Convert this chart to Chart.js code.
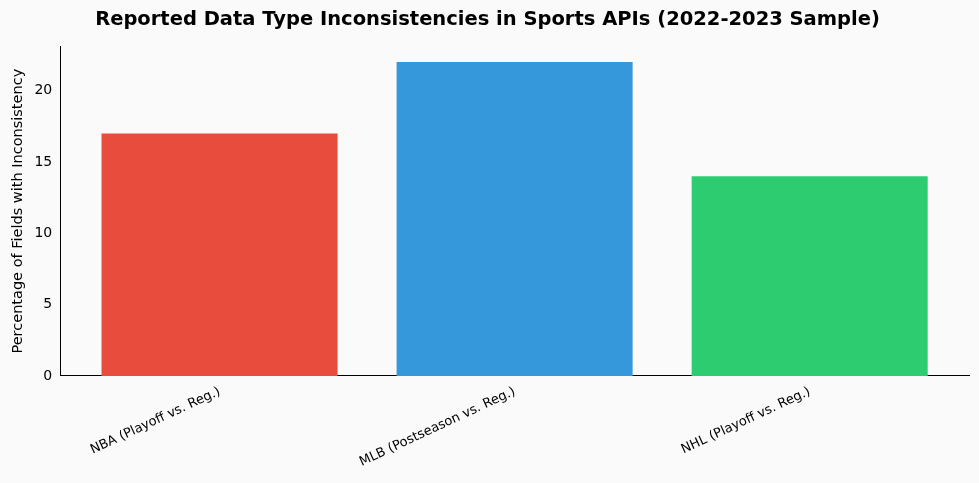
<!DOCTYPE html>
<html><head>
<script src="https://cdn.jsdelivr.net/npm/chart.js@4"></script>
<style>html,body{margin:0;background:#fafafa;}#w{width:979px;height:483px;}</style>
</head><body><div id="w"><canvas id="c"></canvas></div>
<script>
const categories = ["NBA (Playoff vs. Reg.)", "MLB (Postseason vs. Reg.)", "NHL (Playoff vs. Reg.)"];
const values = [17, 22, 14];
const colors = ["#e74c3c", "#3498db", "#2ecc71"];
const yTicks = [0, 5, 10, 15, 20];
Chart.defaults.font.family = "DejaVu Sans";
Chart.defaults.color = "#000";
new Chart(document.getElementById('c'), {
  type: 'bar',
  data: { datasets: [{ data: values.map((v,i)=>({x:i,y:v})), backgroundColor: colors, barPercentage: 0.8, categoryPercentage: 1 }] },
  options: {
    responsive: true, maintainAspectRatio: false, animation: false,
    layout: { padding: { right: 10, top: 2, left: 6, bottom: 10 } },
    plugins: { legend: { display: false }, tooltip: { enabled: false },
      title: { display: true, text: 'Reported Data Type Inconsistencies in Sports APIs (2022-2023 Sample)', font: { size: 19.5, weight: 'bold' }, padding: { top: 6, bottom: 15 } } },
    scales: {
      x: { type: 'linear', min: -0.54, max: 2.54, offset: false,
        afterBuildTicks: a => { a.ticks = categories.map((_, i) => ({ value: i })); },
        ticks: { autoSkip: false, maxRotation: 25, minRotation: 25, font: { size: 13 }, callback: v => categories[v] ?? '' },
        grid: { display: false, drawTicks: true, tickLength: 5, tickColor: '#000' },
        border: { color: '#000' } },
      y: { min: 0, max: 23.1,
        afterBuildTicks: a => { a.ticks = yTicks.map(v => ({ value: v })); },
        ticks: { font: { size: 14 } },
        title: { display: true, text: 'Percentage of Fields with Inconsistency', font: { size: 14.5 } },
        grid: { display: false, drawTicks: true, tickLength: 5, tickColor: '#000' },
        border: { color: '#000' } }
    }
  }
});
</script></body></html>
